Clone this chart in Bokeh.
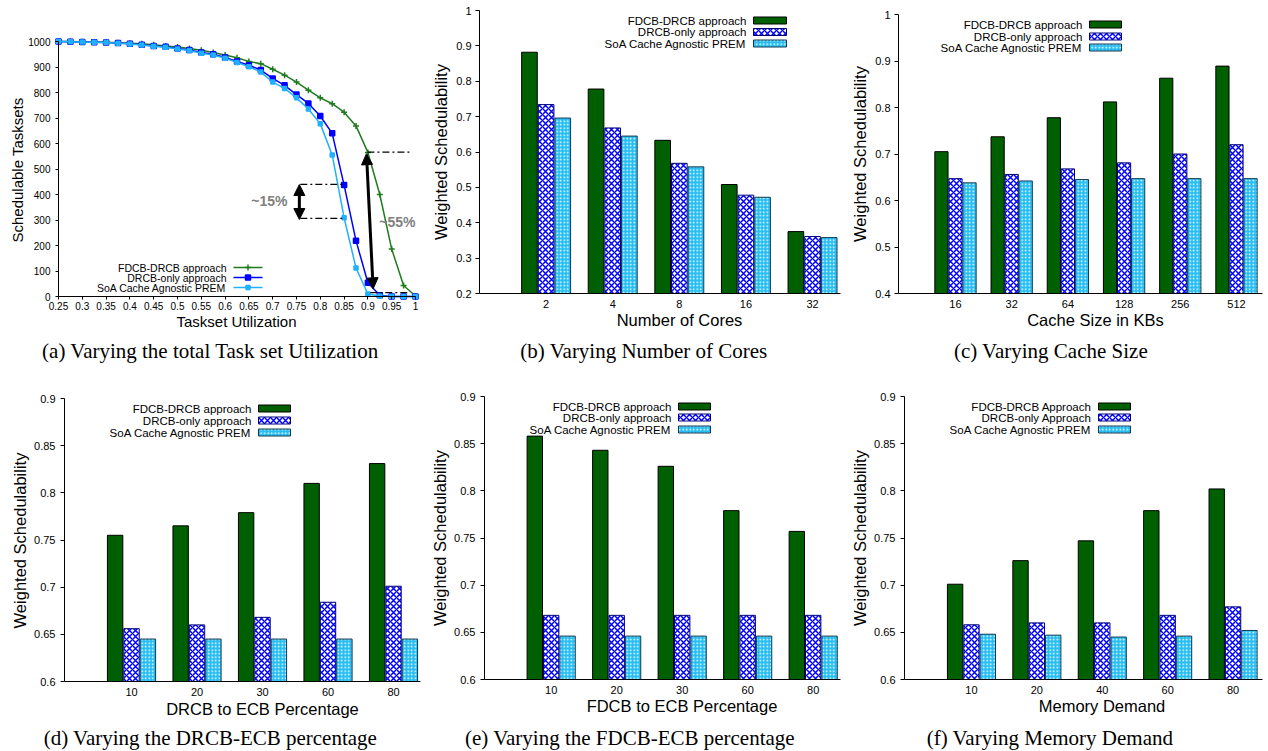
import math
from bokeh.plotting import figure
from bokeh.layouts import column, row
from bokeh.models import Range1d, FixedTicker, Label, Arrow, NormalHead, ColumnDataSource
from bokeh.transform import dodge
from bokeh.core.properties import value
from bokeh.embed import file_html
from bokeh.resources import INLINE

SANS = "Liberation Sans"
SERIF = "Liberation Serif"

# ------------------------------------------------------------------ data
utilization = [0.25, 0.275, 0.3, 0.325, 0.35, 0.375, 0.4, 0.425, 0.45, 0.475, 0.5,
               0.525, 0.55, 0.575, 0.6, 0.625, 0.65, 0.675, 0.7, 0.725, 0.75, 0.775,
               0.8, 0.825, 0.85, 0.875, 0.9, 0.925, 0.95, 0.975, 1.0]
util_fdcb_drcb = [1000, 1000, 999, 998, 997, 995, 993, 991, 987, 982, 978, 973, 966, 957,
                  947, 936, 922, 913, 891, 868, 841, 809, 779, 756, 723, 669, 565, 400,
                  186, 43, 2]
util_drcb_only = [1000, 999, 998, 997, 996, 994, 991, 987, 982, 979, 973, 967, 957, 950,
                  937, 922, 907, 888, 855, 828, 792, 757, 708, 640, 437, 219, 54, 5, 0, 0, 0]
util_soa_prem = [1000, 999, 998, 997, 996, 993, 990, 986, 981, 977, 971, 965, 954, 947,
                 934, 918, 901, 880, 841, 816, 779, 735, 677, 555, 309, 112, 10, 2, 0, 0, 0]
util_xticks = [0.25, 0.3, 0.35, 0.4, 0.45, 0.5, 0.55, 0.6, 0.65, 0.7, 0.75, 0.8, 0.85,
               0.9, 0.95, 1.0]
util_yticks = [0, 100, 200, 300, 400, 500, 600, 700, 800, 900, 1000]

cores_labels = ["2", "4", "8", "16", "32"]
cores_fdcb = [0.882, 0.778, 0.633, 0.508, 0.375]
cores_drcb = [0.734, 0.668, 0.568, 0.478, 0.361]
cores_soa = [0.696, 0.645, 0.558, 0.472, 0.358]

cache_labels = ["16", "32", "64", "128", "256", "512"]
cache_fdcb = [0.705, 0.737, 0.778, 0.812, 0.863, 0.889]
cache_drcb = [0.647, 0.656, 0.668, 0.681, 0.700, 0.720]
cache_soa = [0.638, 0.642, 0.645, 0.647, 0.647, 0.647]

drcb_labels = ["10", "20", "30", "60", "80"]
drcb_fdcb = [0.755, 0.765, 0.779, 0.810, 0.831]
drcb_drcb = [0.656, 0.660, 0.668, 0.684, 0.701]
drcb_soa = [0.645, 0.645, 0.645, 0.645, 0.645]

fdcb_labels = ["10", "20", "30", "60", "80"]
fdcb_fdcb = [0.858, 0.843, 0.826, 0.779, 0.757]
fdcb_drcb = [0.668, 0.668, 0.668, 0.668, 0.668]
fdcb_soa = [0.646, 0.646, 0.646, 0.646, 0.646]

mem_labels = ["10", "20", "40", "60", "80"]
mem_fdcb = [0.701, 0.726, 0.747, 0.779, 0.802]
mem_drcb = [0.658, 0.660, 0.660, 0.668, 0.677]
mem_soa = [0.648, 0.647, 0.645, 0.646, 0.652]

names_lower = ["FDCB-DRCB approach", "DRCB-only approach", "SoA Cache Agnostic PREM"]
names_upper = ["FDCB-DRCB Approach", "DRCB-only Approach", "SoA Cache Agnostic PREM"]

ticks_02 = [0.2, 0.3, 0.4, 0.5, 0.6, 0.7, 0.8, 0.9, 1.0]
ticks_04 = [0.4, 0.5, 0.6, 0.7, 0.8, 0.9, 1.0]
ticks_06 = [0.6, 0.65, 0.7, 0.75, 0.8, 0.85, 0.9]


# ------------------------------------------------------------------ layout geometry (page px)
def panel(box, area, xr, yr):
    L, T, W, H = box
    pl, pr, pt, pb = area
    sx = (xr[1] - xr[0]) / (pr - pl)
    sy = (yr[1] - yr[0]) / (pb - pt)
    fx = (xr[0] - (pl - L) * sx, xr[1] + (L + W - pr) * sx)
    fy = (yr[0] - (T + H - pb) * sy, yr[1] + (pt - T) * sy)
    return dict(fig=box, area=area, xr=xr, yr=yr, fxr=fx, fyr=fy)


G = {
    'a': panel((0, 0, 422, 375), (58, 415, 41, 296), (0.25, 1.0), (0, 1000)),
    'b': panel((422, 0, 423, 375), (479, 840, 10, 293), (0.0, 5.42), (0.2, 1.0)),
    'c': panel((845, 0, 423, 375), (898, 1262, 14, 293), (-0.014, 6.463), (0.4, 1.0)),
    'd': panel((0, 375, 422, 375), (64, 420, 398, 681), (-0.023, 5.412), (0.6, 0.9)),
    'e': panel((422, 375, 423, 375), (484, 840, 396, 679), (-0.018, 5.417), (0.6, 0.9)),
    'f': panel((845, 375, 423, 375), (904, 1262, 396, 679), (-0.024, 5.450), (0.6, 0.9)),
}

GREEN = "#005f00"
BLUE = "#0000ff"
CYAN = "#26bdf2"
LGREEN = "#1e7b1e"
LCYAN = "#20b0ff"

STY = [
    dict(fill_color=GREEN, line_color="black", line_width=1),
    dict(fill_color="white", hatch_pattern="diagonal_cross", hatch_color=BLUE,
         hatch_scale=6, hatch_weight=1.5, line_color="#00007a", line_width=1),
    dict(fill_color=CYAN, hatch_pattern="dot", hatch_color="white",
         hatch_scale=3.5, hatch_weight=1, line_color="#103a50", line_width=1),
]


def px2data(g, px, py):
    pl, pr, pt, pb = g['area']
    x0, x1 = g['xr']
    y0, y1 = g['yr']
    return (x0 + (px - pl) / (pr - pl) * (x1 - x0), y0 + (pb - py) / (pb - pt) * (y1 - y0))


def add_text(p, g, px, py, text, font, size, align="center", angle=0.0, color="black",
             style="normal"):
    x, y = px2data(g, px, py)
    p.add_layout(Label(x=x, y=y, text=text, text_align=align, text_baseline="middle",
                       text_font=font, text_font_size=size, angle=angle, text_color=color,
                       text_font_style=style))


def make_fig(g):
    L, T, W, H = g['fig']
    p = figure(width=W, height=H, x_range=Range1d(*g['fxr']), y_range=Range1d(*g['fyr']),
               output_backend="svg", toolbar_location=None, title=None,
               min_border=0, min_border_left=0, min_border_right=0,
               min_border_top=0, min_border_bottom=0)
    p.outline_line_color = None
    p.xgrid.visible = False
    p.ygrid.visible = False
    for ax in p.axis:
        ax.axis_line_color = "black"
        ax.axis_line_width = 1
        ax.major_tick_line_color = "black"
        ax.minor_tick_line_color = None
        ax.major_tick_in = 0
        ax.major_tick_out = 4
        ax.major_label_text_font = SANS
        ax.major_label_text_color = "black"
    xa, ya = p.xaxis[0], p.yaxis[0]
    xa.fixed_location = g['yr'][0]
    xa.bounds = g['xr']
    ya.fixed_location = g['xr'][0]
    ya.bounds = g['yr']
    return p


def bar_panel(key, labels, s1, s2, s3, names, yticks, ylabel_pos, xlabel, xlabel_pos,
              caption, cap_pos, leg, ystand):
    g = G[key]
    p = make_fig(g)
    n = len(labels)
    pos = list(range(1, n + 1))
    src = ColumnDataSource(dict(x=pos, a=s1, b=s2, c=s3))
    base = g['yr'][0]
    w = 0.235
    p.vbar(x=dodge('x', -0.25, range=p.x_range), top='a', bottom=base, width=w, source=src, **STY[0])
    p.vbar(x='x', top='b', bottom=base, width=w, source=src, **STY[1])
    p.vbar(x=dodge('x', 0.25, range=p.x_range), top='c', bottom=base, width=w, source=src, **STY[2])

    tx, sx0, sx1, rows = leg
    for i, nm in enumerate(names):
        xt, yc = px2data(g, tx, rows[i])
        xa, ytop = px2data(g, sx0, rows[i] - 3.5)
        xb, ybot = px2data(g, sx1, rows[i] + 3.5)
        p.quad(left=[xa], right=[xb], top=[ytop], bottom=[ybot], **STY[i])
        p.text(x=[xt], y=[yc], text=[nm], text_align="right", text_baseline="middle",
               text_font=value(SANS), text_font_size=value("11.5px"), text_color="black")

    xa = p.xaxis[0]
    ya = p.yaxis[0]
    xa.ticker = FixedTicker(ticks=pos)
    xa.major_label_overrides = {i: lab for i, lab in zip(pos, labels)}
    xa.major_tick_out = 0
    xa.major_label_text_font_size = "11px"
    xa.major_label_standoff = 6
    ya.ticker = FixedTicker(ticks=yticks)
    ya.major_label_overrides = {t: f"{t:g}" for t in yticks}
    ya.major_label_text_font_size = "11px"
    ya.major_label_standoff = ystand
    add_text(p, g, ylabel_pos[0], ylabel_pos[1], "Weighted Schedulability", SANS, "16.5px",
             angle=math.pi / 2)
    add_text(p, g, xlabel_pos[0], xlabel_pos[1], xlabel, SANS, "16.5px")
    add_text(p, g, cap_pos[0], cap_pos[1], caption, SERIF, "21px")
    return p


# ------------------------------------------------------------------ (a) line chart
ga = G['a']
pa = make_fig(ga)
series = [
    (util_fdcb_drcb, LGREEN, "cross", 6),
    (util_drcb_only, BLUE, "square", 5),
    (util_soa_prem, LCYAN, "square", 4),
]
for ys, col, mk, sz in series:
    pa.line(utilization, ys, line_color=col, line_width=1.5)
    pa.scatter(utilization, ys, marker=mk, size=sz, line_color=col, fill_color=col, line_width=1.5)

leg_rows = [267, 277, 287]
for i, (ys, col, mk, sz) in enumerate(series):
    xt, yc = px2data(ga, 226, leg_rows[i])
    x0, _ = px2data(ga, 233, leg_rows[i])
    x1, _ = px2data(ga, 262, leg_rows[i])
    xm, _ = px2data(ga, 247.5, leg_rows[i])
    pa.segment(x0=[x0], y0=[yc], x1=[x1], y1=[yc], line_color=col, line_width=1.5)
    pa.scatter([xm], [yc], marker=mk, size=sz, line_color=col, fill_color=col, line_width=1.5)
    pa.text(x=[xt], y=[yc], text=[names_lower[i]], text_align="right", text_baseline="middle",
            text_font=value(SANS), text_font_size=value("10.5px"), text_color="black")

# annotations
guide_x0 = [0.758, 0.758, 0.899, 0.905]
guide_x1 = [0.849, 0.849, 0.989, 0.989]
guide_y = [440, 306, 566, 15]
pa.segment(x0=guide_x0, y0=guide_y, x1=guide_x1, y1=guide_y, line_color="black",
           line_width=1.2, line_dash="7 3 2 3")
arrows = [((0.756, 439), (0.756, 302)), ((0.897, 560), (0.911, 30))]
for (xs, ys_), (xe, ye) in arrows:
    pa.add_layout(Arrow(x_start=xs, y_start=ys_, x_end=xe, y_end=ye, line_width=3,
                        line_color="black",
                        start=NormalHead(size=11, fill_color="black", line_color="black"),
                        end=NormalHead(size=11, fill_color="black", line_color="black")))
for txt, x, y in [("~15%", 0.693, 376), ("~55%", 0.962, 294)]:
    pa.add_layout(Label(x=x, y=y, text=txt, text_align="center", text_baseline="middle",
                        text_font=SANS, text_font_size="14px", text_font_style="bold",
                        text_color="#808080"))

xa = pa.xaxis[0]
ya = pa.yaxis[0]
xa.ticker = FixedTicker(ticks=util_xticks)
xa.major_label_overrides = {t: f"{t:g}" for t in util_xticks}
xa.major_tick_out = 3
xa.major_label_text_font_size = "10px"
xa.major_label_standoff = 2
ya.ticker = FixedTicker(ticks=util_yticks)
ya.major_tick_out = 3
ya.major_label_text_font_size = "10px"
ya.major_label_standoff = 5
add_text(pa, ga, 17, 169.5, "Schedulable Tasksets", SANS, "15px", angle=math.pi / 2)
add_text(pa, ga, 236, 320.5, "Taskset Utilization", SANS, "15px")
add_text(pa, ga, 210, 350, "(a) Varying the total Task set Utilization", SERIF, "21px")

# ------------------------------------------------------------------ bar charts
pb = bar_panel('b', cores_labels, cores_fdcb, cores_drcb, cores_soa, names_lower, ticks_02,
               (440, 151.5), "Number of Cores", (679, 319.5), "(b) Varying Number of Cores",
               (643.5, 350), (746, 753, 786, [20, 31.5, 43]), 4)
pc = bar_panel('c', cache_labels, cache_fdcb, cache_drcb, cache_soa, names_lower, ticks_04,
               (859, 153.5), "Cache Size in KBs", (1095, 319.5), "(c) Varying Cache Size",
               (1050.5, 350), (1082, 1089, 1121, [24, 36, 47]), 4)
pd_ = bar_panel('d', drcb_labels, drcb_fdcb, drcb_drcb, drcb_soa, names_lower, ticks_06,
                (19, 540), "DRCB to ECB Percentage", (262, 708),
                "(d) Varying the DRCB-ECB percentage", (210, 737),
                (251, 258, 290, [408, 420, 432]), 5)
pe = bar_panel('e', fdcb_labels, fdcb_fdcb, fdcb_drcb, fdcb_soa, names_lower, ticks_06,
               (439, 537.5), "FDCB to ECB Percentage", (681.5, 705.5),
               "(e) Varying the FDCB-ECB percentage", (629.5, 737),
               (671, 678, 710, [406, 417, 429]), 5)
pf = bar_panel('f', mem_labels, mem_fdcb, mem_drcb, mem_soa, names_upper, ticks_06,
               (859, 537.5), "Memory Demand", (1101.5, 705.5), "(f) Varying Memory Demand",
               (1049.5, 737.5), (1091, 1098, 1130, [406, 417, 429]), 5)

layout = column(row(pa, pb, pc), row(pd_, pe, pf))
open("out.html", "w").write(file_html(layout, INLINE))
